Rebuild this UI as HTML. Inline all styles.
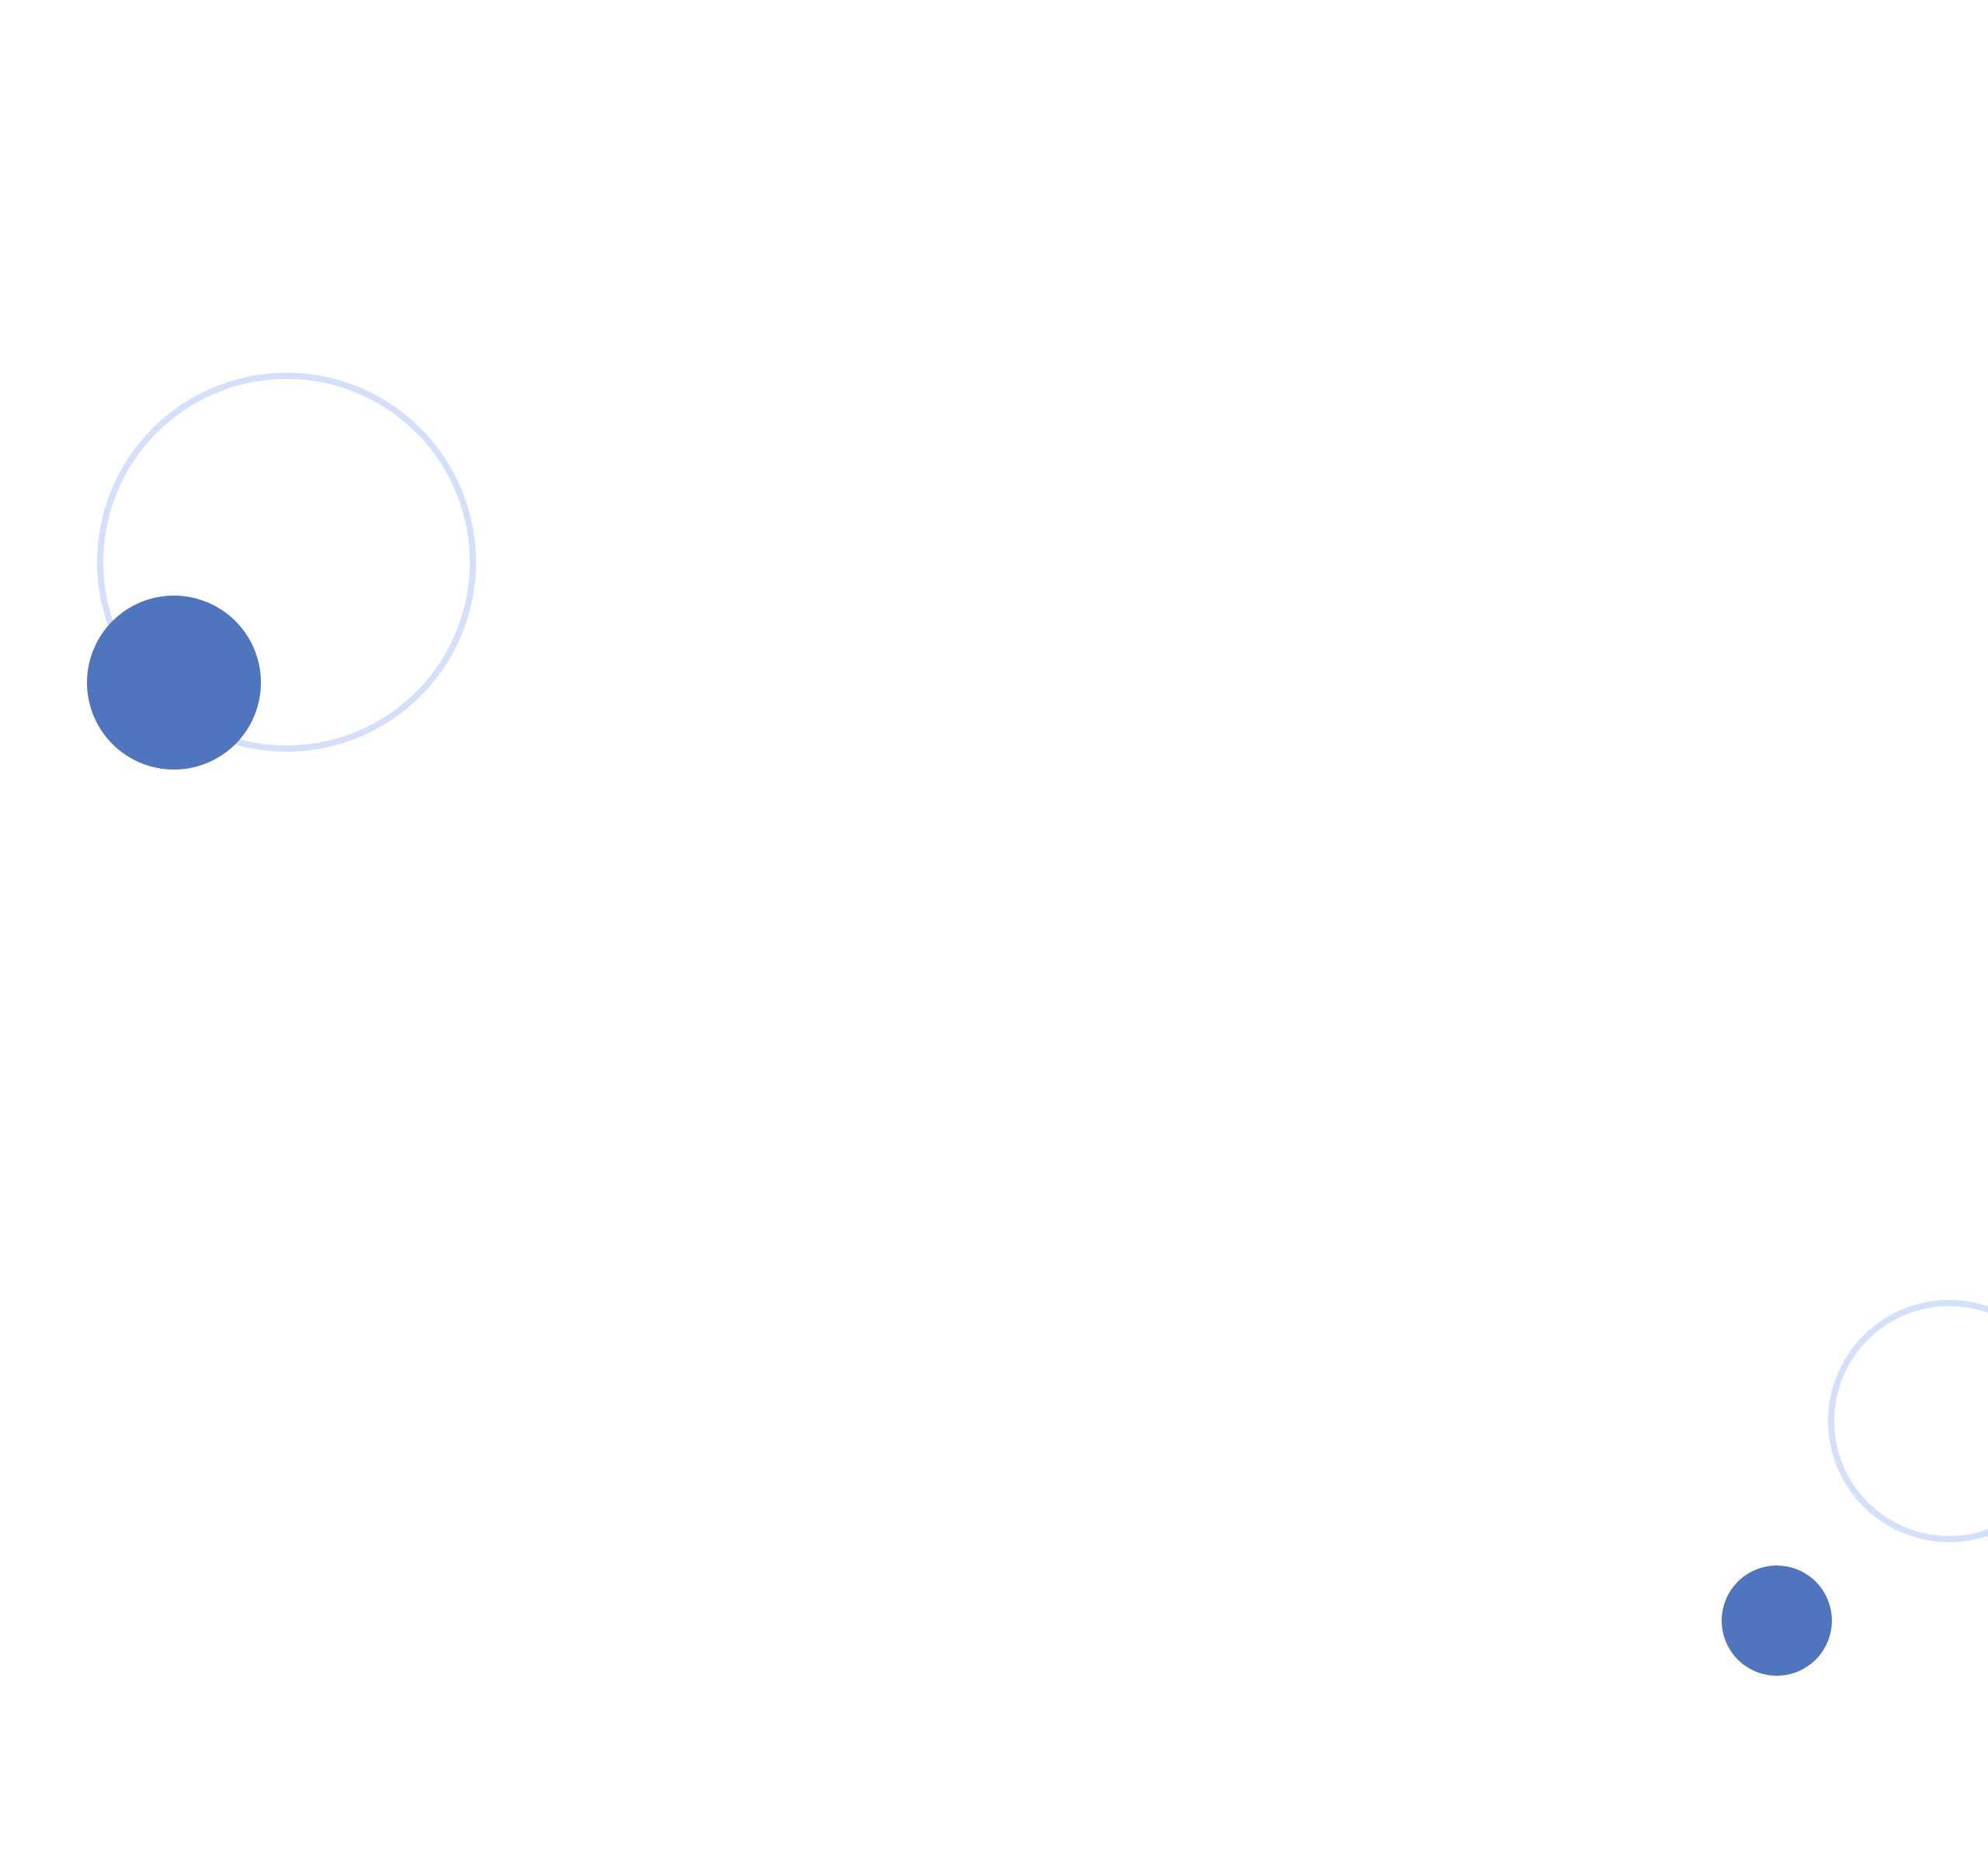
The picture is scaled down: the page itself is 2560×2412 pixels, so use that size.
<!DOCTYPE html>
<html><head><meta charset="utf-8"><style>html,body{margin:0;padding:0;background:#fff;}svg{display:block}</style></head>
<body>
<svg width="2560" height="2412" viewBox="0 0 2560 2412" xmlns="http://www.w3.org/2000/svg">
<rect width="2560" height="2412" fill="#fff"/>
<circle cx="369" cy="724" r="240" fill="none" stroke="#d2e0fb" stroke-width="8"/>
<circle cx="224" cy="879" r="112" fill="#4f75bf"/>
<circle cx="2510" cy="1830" r="152" fill="none" stroke="#d2e0fb" stroke-width="8"/>
<circle cx="2288" cy="2087" r="71" fill="#4f75bf"/>
</svg>
</body></html>
